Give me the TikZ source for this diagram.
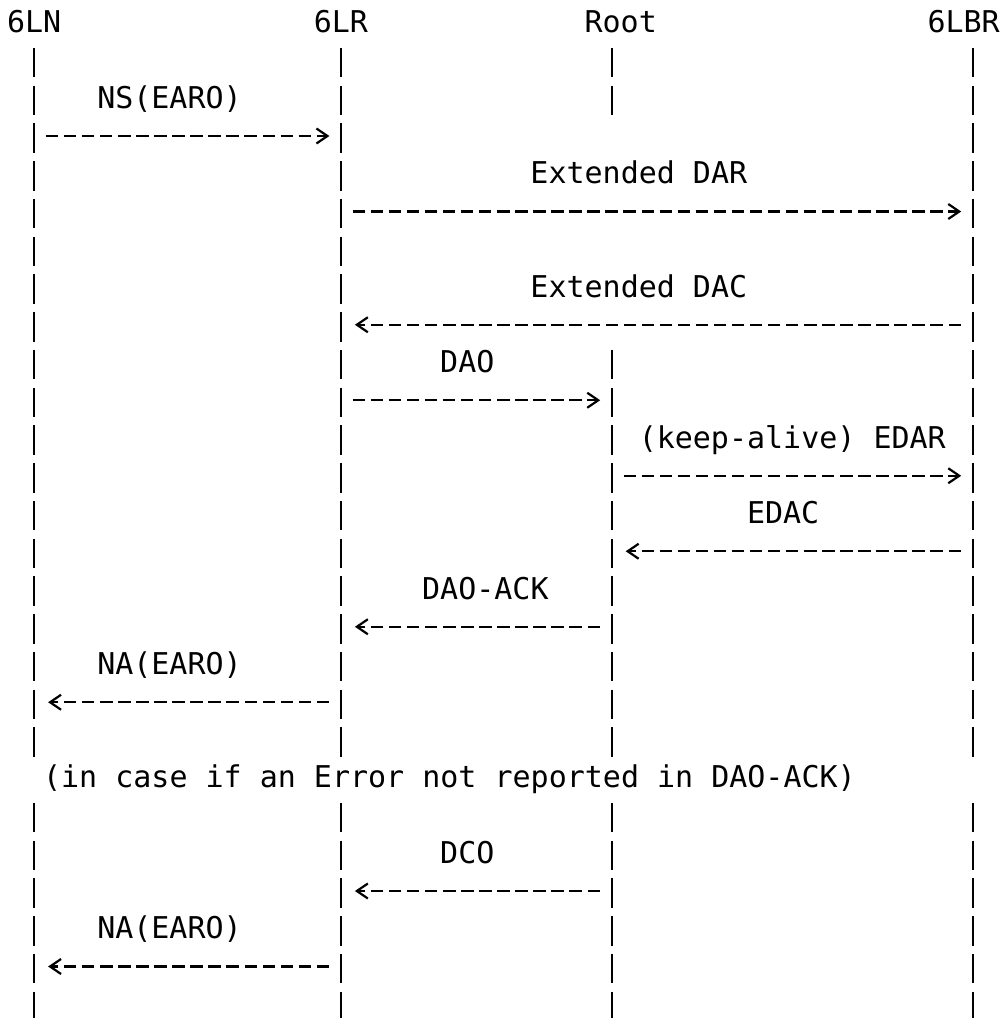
\documentclass[tikz,border=0pt]{standalone}
\usepackage{fontspec}
\setmonofont{DejaVu Sans Mono}
\usetikzlibrary{arrows.meta,calc}
\tikzset{
  lbl/.style={anchor=base west,inner sep=0pt,outer sep=0pt,text=black,
    font=\ttfamily\fontsize{30pt}{37.75pt}\selectfont},
  life/.style={draw=black,line width=2.4pt,line cap=butt,dash pattern=on 29.5pt off 8.25pt},
  msg/.style={draw=black,line width=2.2pt,line cap=butt,dash pattern=on 12.4pt off 5.65pt,
    -{Straight Barb[length=11pt,width=15pt]}}
}
\begin{document}
\begin{tikzpicture}[x=1pt,y=-1pt]
\useasboundingbox[fill=white] (0,0) rectangle (1005,1018);
% rows and lifeline positions
\foreach \i in {1,...,27} { \coordinate (r\i) at (0,{24.75+(\i-1)*37.75}); }
\coordinate (L1) at (34.1,0);
\coordinate (L2) at (340.9,0);
\coordinate (L3) at (611.7,0);
\coordinate (L4) at (972.7,0);
% headers
\node[lbl] (h6ln) at ($(r1)+(7,7.5)$) {6LN};
\node[lbl] (h6lr) at ($(r1)+(313.85,7.5)$) {6LR};
\node[lbl] (hroot) at ($(r1)+(584.6,7.5)$) {Root};
\node[lbl] (h6lbr) at ($(r1)+(927.55,7.5)$) {6LBR};
% lifelines
\foreach \L in {L1,L2,L4} {
  \draw[life] ($(\L|-r2)+(0,-14.75)$) -- ($(\L|-r20)+(0,14.75)$);
  \draw[life] ($(\L|-r22)+(0,-14.75)$) -- ($(\L|-r27)+(0,14.75)$);
}
\draw[life] ($(L3|-r2)+(0,-14.75)$) -- ($(L3|-r3)+(0,14.75)$);
\draw[life] ($(L3|-r10)+(0,-14.75)$) -- ($(L3|-r20)+(0,14.75)$);
\draw[life] ($(L3|-r22)+(0,-14.75)$) -- ($(L3|-r27)+(0,14.75)$);
% labels
\node[lbl] (tns) at ($(r3)+(97.25,8)$) {NS(EARO)};
\node[lbl] (tedar) at ($(r5)+(530.45,8)$) {Extended DAR};
\node[lbl] (tedac) at ($(r8)+(530.45,8)$) {Extended DAC};
\node[lbl] (tdao) at ($(r10)+(440.2,8)$) {DAO};
\node[lbl] (tka) at ($(r12)+(638.75,8)$) {(keep-alive) EDAR};
\node[lbl] (tedac2) at ($(r14)+(747.05,8)$) {EDAC};
\node[lbl] (tack) at ($(r16)+(422.15,8)$) {DAO-ACK};
\node[lbl] (tna1) at ($(r18)+(97.25,8)$) {NA(EARO)};
\node[lbl] (tcase) at ($(r21)+(43.1,8)$) {(in case if an Error not reported in DAO-ACK)};
\node[lbl] (tdco) at ($(r23)+(440.2,8)$) {DCO};
\node[lbl] (tna2) at ($(r25)+(97.25,8)$) {NA(EARO)};
% messages
\draw[msg] ($(L1|-r4)+(11.8,-2)$) -- ($(L2|-r4)+(-11.5,-2)$);
\draw[msg] ($(L2|-r6)+(11.8,-2)$) -- ($(L4|-r6)+(-11.5,-2)$);
\draw[msg] ($(L4|-r9)+(-11.8,-2)$) -- ($(L2|-r9)+(14,-2)$);
\draw[msg] ($(L2|-r11)+(11.8,-2)$) -- ($(L3|-r11)+(-11.5,-2)$);
\draw[msg] ($(L3|-r13)+(11.8,-2)$) -- ($(L4|-r13)+(-11.5,-2)$);
\draw[msg] ($(L4|-r15)+(-11.8,-2)$) -- ($(L3|-r15)+(14,-2)$);
\draw[msg] ($(L3|-r17)+(-11.8,-2)$) -- ($(L2|-r17)+(14,-2)$);
\draw[msg] ($(L2|-r19)+(-11.8,-2)$) -- ($(L1|-r19)+(14,-2)$);
\draw[msg] ($(L3|-r24)+(-11.8,-2)$) -- ($(L2|-r24)+(14,-2)$);
\draw[msg] ($(L2|-r26)+(-11.8,-2)$) -- ($(L1|-r26)+(14,-2)$);
\end{tikzpicture}
\end{document}
